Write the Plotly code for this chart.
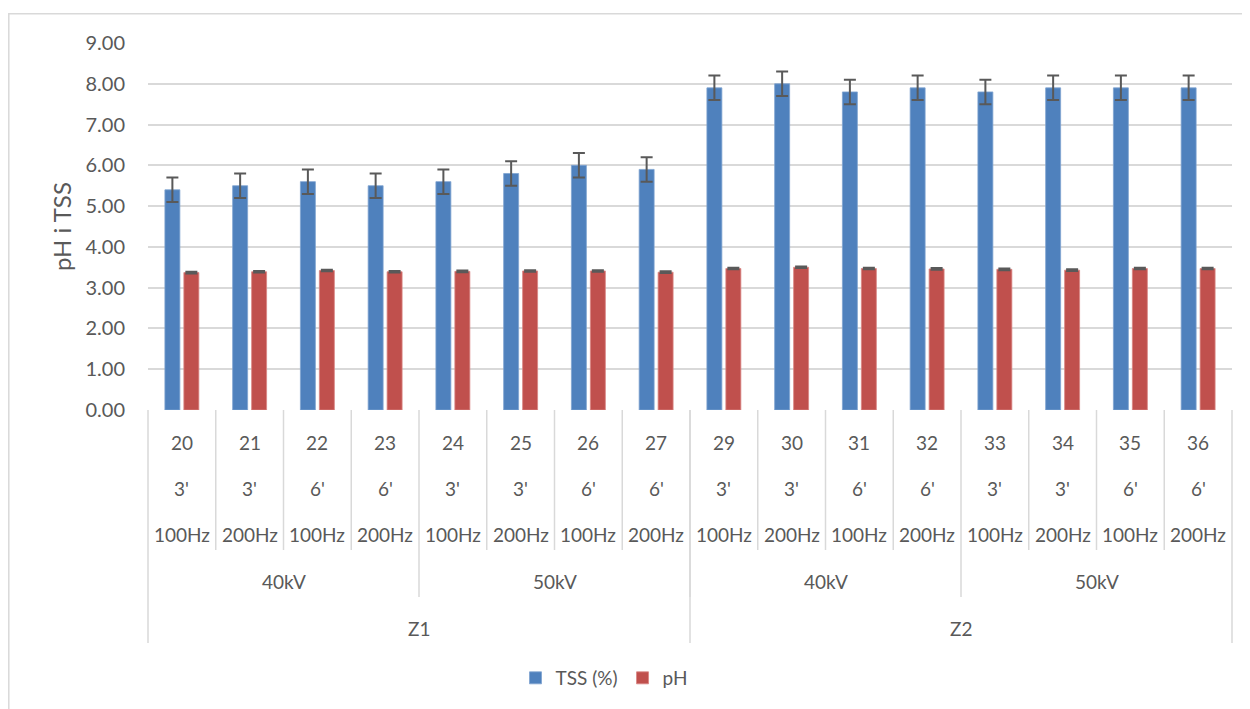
import plotly.graph_objects as go

# ---- data ----
samples = ["20", "21", "22", "23", "24", "25", "26", "27",
           "29", "30", "31", "32", "33", "34", "35", "36"]
times = ["3'", "3'", "6'", "6'", "3'", "3'", "6'", "6'",
         "3'", "3'", "6'", "6'", "3'", "3'", "6'", "6'"]
freqs = ["100Hz", "200Hz", "100Hz", "200Hz", "100Hz", "200Hz", "100Hz", "200Hz",
         "100Hz", "200Hz", "100Hz", "200Hz", "100Hz", "200Hz", "100Hz", "200Hz"]
voltages = ["40kV"] * 4 + ["50kV"] * 4 + ["40kV"] * 4 + ["50kV"] * 4
zones = ["Z1"] * 8 + ["Z2"] * 8

tss = [5.4, 5.5, 5.6, 5.5, 5.6, 5.8, 6.0, 5.9,
       7.9, 8.0, 7.8, 7.9, 7.8, 7.9, 7.9, 7.9]
tss_err = [0.3] * 16
ph = [3.37, 3.39, 3.42, 3.39, 3.40, 3.41, 3.41, 3.38,
      3.47, 3.50, 3.47, 3.46, 3.45, 3.43, 3.47, 3.47]
ph_err = [0.02] * 16

y_ticks = [0, 1, 2, 3, 4, 5, 6, 7, 8, 9]

# ---- styling ----
FONT = "Lato"
TXT = "#595959"
GRID = "#D9D9D9"
OFF = 8  # page body margin
W, H = 1250 - OFF, 709 - OFF
L, R, T, B = 148 - OFF, W - (1232 - OFF), 43 - OFF, H - (410 - OFF)
plot_h = H - T - B
plot_w = W - L - R


def py(px):
    """reference pixel row -> paper y"""
    return ((410 - OFF) - (px - OFF)) / plot_h


def px_x(px):
    """reference pixel column -> paper x"""
    return ((px - OFF) - L) / plot_w


N = len(samples)

fig = go.Figure()
fig.add_trace(go.Bar(
    name="TSS (%)", x=samples, y=tss,
    marker=dict(color="#4F81BD", line=dict(color="#7FA3D0", width=0.8)),
    error_y=dict(type="data", array=tss_err, color="#595959", thickness=2, width=6),
))
fig.add_trace(go.Bar(
    name="pH", x=samples, y=ph,
    marker=dict(color="#C0504D", line=dict(color="#D98583", width=0.8)),
    error_y=dict(type="data", array=ph_err, color="#595959", thickness=2, width=6),
))

shapes = []
annotations = []


def cx(i):
    return (i + 0.5) / N


line_style = dict(color=GRID, width=1.5)


def label(x, y, text, size=19, angle=0):
    annotations.append(dict(x=x, y=y, xref="paper", yref="paper", text=text,
                            showarrow=False, xanchor="center", yanchor="middle",
                            textangle=angle,
                            font=dict(family=FONT, size=size, color=TXT)))


# rows 1-3 labels
rows = [(samples, 442), (times, 488), (freqs, 534)]
for labels, ypx in rows:
    for i, lab in enumerate(labels):
        label(cx(i), py(ypx), lab)


def runs(labels, parent=None):
    out = []
    start = 0
    for i in range(1, len(labels) + 1):
        if i == len(labels) or labels[i] != labels[start] or (
                parent is not None and parent[i] != parent[start]):
            out.append((start, i - 1, labels[start]))
            start = i
    return out


# separators between samples
for i in range(1, N):
    shapes.append(dict(type="line", xref="paper", yref="paper",
                       x0=i / N, x1=i / N, y0=py(410), y1=py(550), line=line_style))

kv_runs = runs(voltages, zones)
z_runs = runs(zones)
for s, e, lab in kv_runs:
    label((s + e + 1) / 2 / N, py(581), lab)
    if s > 0:
        shapes.append(dict(type="line", xref="paper", yref="paper",
                           x0=s / N, x1=s / N, y0=py(550), y1=py(597), line=line_style))
for s, e, lab in z_runs:
    label((s + e + 1) / 2 / N, py(628), lab)
    shapes.append(dict(type="line", xref="paper", yref="paper",
                       x0=s / N, x1=s / N, y0=py(410), y1=py(643), line=line_style))
shapes.append(dict(type="line", xref="paper", yref="paper",
                   x0=1, x1=1, y0=py(410), y1=py(643), line=line_style))

# outer chart border
shapes.append(dict(type="rect", xref="paper", yref="paper",
                   x0=px_x(8.8), x1=px_x(1262), y0=py(725), y1=py(13.8),
                   line=dict(color=GRID, width=1.5), layer="below"))

label(px_x(61), py(227), "pH i TSS", size=24, angle=-90)

fig.update_layout(
    width=W, height=H,
    margin=dict(l=L, r=R, t=T, b=B, autoexpand=False),
    paper_bgcolor="white", plot_bgcolor="white",
    barmode="group", bargap=0.44, bargroupgap=0.21,
    font=dict(family=FONT, size=19, color=TXT),
    xaxis=dict(type="category", range=[-0.5, N - 0.5], showticklabels=False,
               showgrid=False, zeroline=False, showline=False, ticks=""),
    yaxis=dict(range=[0, 9], tickvals=y_ticks, tickformat=".2f",
               showgrid=True, gridcolor=GRID, gridwidth=1.5,
               zeroline=False, showline=False, ticks="",
               ticklabelstandoff=22,
               tickfont=dict(family=FONT, size=20, color=TXT)),
    legend=dict(orientation="h", x=px_x(604), xanchor="center", y=py(678), yanchor="middle",
                font=dict(family=FONT, size=19, color=TXT), itemwidth=30,
                bgcolor="rgba(0,0,0,0)"),
    shapes=shapes, annotations=annotations,
    showlegend=True,
)

fig.write_html("out.html")
